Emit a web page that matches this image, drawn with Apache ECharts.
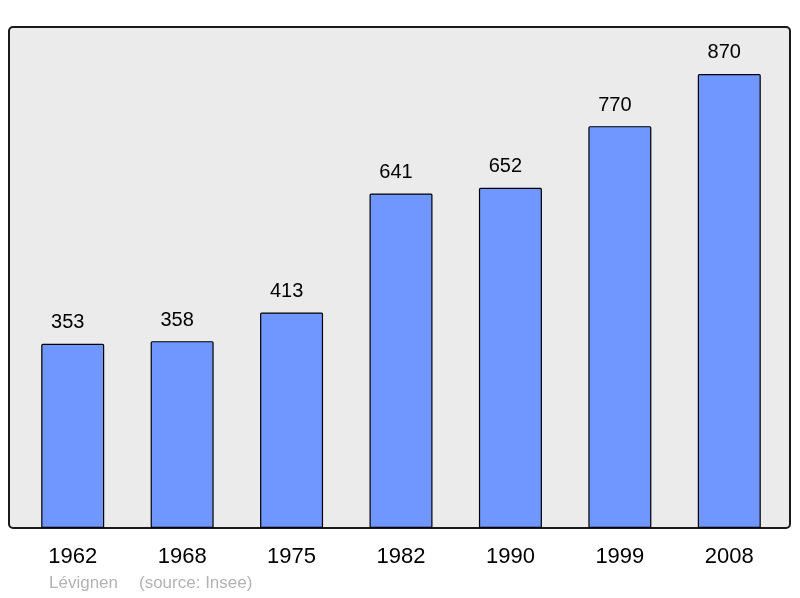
<!DOCTYPE html>
<html>
<head>
<meta charset="utf-8">
<script src="https://cdn.jsdelivr.net/npm/echarts@6/dist/echarts.min.js"></script>
<style>
html, body { margin: 0; padding: 0; background: #fff; }
#main { width: 800px; height: 598px; }
</style>
</head>
<body>
<div id="main"></div>
<script>
var years = ['1962', '1968', '1975', '1982', '1990', '1999', '2008'];
var population = [353, 358, 413, 641, 652, 770, 870];
var commune = 'Lévignen';
var source = '(source: Insee)';

var myChart = echarts.init(document.getElementById('main'));
var option = {
    animation: false,
    backgroundColor: '#ffffff',
    textStyle: { fontFamily: 'Liberation Sans, Arial, sans-serif' },
    graphic: [
        {
            // cadre gris du graphique
            type: 'rect',
            z: -10,
            shape: { x: 9, y: 27, width: 781, height: 501, r: 4 },
            style: { fill: '#ebebeb', stroke: '#1a1a1a', lineWidth: 2 }
        },
        {
            type: 'text',
            left: 49,
            top: 575,
            style: {
                text: commune,
                fill: '#b3b3b3',
                font: '17px Liberation Sans, Arial, sans-serif'
            }
        },
        {
            type: 'text',
            left: 139,
            top: 575,
            style: {
                text: source,
                fill: '#b3b3b3',
                font: '17px Liberation Sans, Arial, sans-serif'
            }
        }
    ],
    grid: { left: 18, right: 16, top: 27, bottom: 70 },
    xAxis: {
        type: 'category',
        data: years,
        axisLine: { show: false },
        axisTick: { show: false },
        axisLabel: {
            color: '#000',
            fontSize: 22,
            margin: 18
        }
    },
    yAxis: {
        type: 'value',
        min: 0,
        max: 960,
        show: false,
        splitLine: { show: false }
    },
    series: [{
        type: 'bar',
        data: population,
        barWidth: 63,
        itemStyle: {
            color: '#7097ff',
            borderColor: '#000',
            borderWidth: 1.2,
            borderRadius: 1
        },
        label: {
            show: true,
            position: 'top',
            distance: 11,
            offset: [-5, 0],
            color: '#000',
            fontSize: 20
        }
    }]
};
myChart.setOption(option);
</script>
</body>
</html>
